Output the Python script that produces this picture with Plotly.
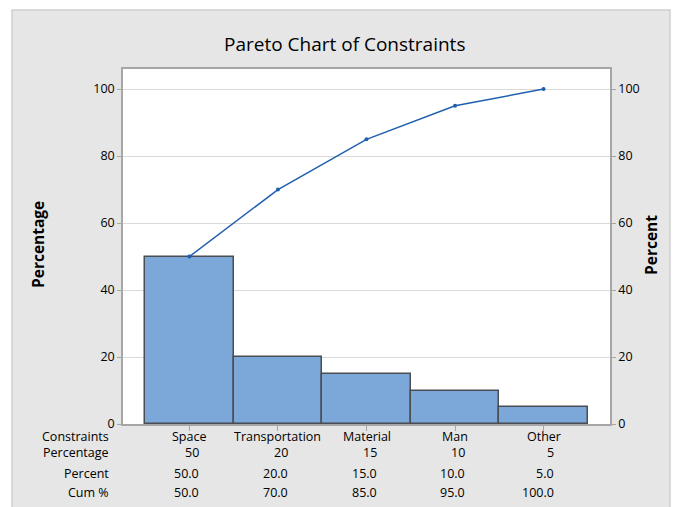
import plotly.graph_objects as go

categories = ["Space", "Transportation", "Material", "Man", "Other"]
percentage = [50, 20, 15, 10, 5]
percent = [50.0, 20.0, 15.0, 10.0, 5.0]
cum_percent = [50.0, 70.0, 85.0, 95.0, 100.0]
y_ticks = [0, 20, 40, 60, 80, 100]
row_labels = ["Constraints", "Percentage", "Percent", "Cum %"]

FONT = "Open Sans"
TXT = "#000000"
AX = "#a6a6a6"

# page offset (body margin) and plot-area geometry in window pixels
OFF = 8
W, H = 681 - OFF, 507 - OFF
L = 123 - OFF
T = 69 - OFF
R = 681 - 610
B = 507 - 424
pw, ph = W - L - R, H - T - B

def px_x(p):
    return (p - OFF - L) / pw

def px_y(p):
    return (424 - p) / ph

fig = go.Figure()
fig.add_trace(go.Bar(
    x=list(range(len(categories))), y=percentage, width=1.0,
    marker=dict(color="#7ba7d9", line=dict(color="#4a4d52", width=1.5)),
    showlegend=False, hoverinfo="skip",
))
fig.add_trace(go.Scatter(
    x=list(range(len(categories))), y=cum_percent, mode="lines+markers",
    line=dict(color="#1f5fae", width=1.5), marker=dict(size=4, color="#1f5fae"),
    showlegend=False,
))
fig.add_trace(go.Scatter(x=[0], y=[0], yaxis="y2", mode="markers",
                         marker=dict(opacity=0), showlegend=False, hoverinfo="skip"))

shapes = [
    dict(type="rect", xref="paper", yref="paper", layer="below",
         x0=px_x(12), x1=px_x(670), y0=px_y(515), y1=px_y(10),
         fillcolor="#e6e6e6", line=dict(color="#cfcfcf", width=1.5)),
    dict(type="rect", xref="paper", yref="paper", layer="below",
         x0=0, x1=1, y0=0, y1=1, fillcolor="white", line=dict(width=0)),
]

ann = []
rows_y = [436, 453, 473, 492]
for lab, py in zip(row_labels, rows_y):
    ann.append(dict(text=lab, xref="paper", yref="paper", x=px_x(111), y=px_y(py),
                    xanchor="right", yanchor="middle", showarrow=False,
                    font=dict(family=FONT, size=12.5, color=TXT)))
off = 12 / (pw / 5.5)
for i, c in enumerate(categories):
    ann.append(dict(text=c, xref="x", yref="paper", x=i, y=px_y(rows_y[0]),
                    xanchor="center", yanchor="middle", showarrow=False,
                    font=dict(family=FONT, size=12.5, color=TXT)))
    for val, py in zip([f"{percentage[i]}", f"{percent[i]:.1f}", f"{cum_percent[i]:.1f}"], rows_y[1:]):
        ann.append(dict(text=val, xref="x", yref="paper", x=i + off, y=px_y(py),
                        xanchor="right", yanchor="middle", showarrow=False,
                        font=dict(family=FONT, size=12.5, color=TXT)))
ann.append(dict(text="<b>Percentage</b>", xref="paper", yref="paper", x=px_x(38), y=px_y(245),
                textangle=-90, showarrow=False, xanchor="center", yanchor="middle",
                font=dict(family=FONT, size=15.5, color=TXT)))
ann.append(dict(text="<b>Percent</b>", xref="paper", yref="paper", x=px_x(651), y=px_y(245),
                textangle=-90, showarrow=False, xanchor="center", yanchor="middle",
                font=dict(family=FONT, size=15.5, color=TXT)))
ann.append(dict(text="Pareto Chart of Constraints", xref="paper", yref="paper",
                x=px_x(344), y=px_y(44), showarrow=False, xanchor="center", yanchor="middle",
                font=dict(family=FONT, size=19, color=TXT)))

yax = dict(range=[0, 106], tickvals=y_ticks, showgrid=True, gridcolor="#dadada", gridwidth=1,
           zeroline=False, showline=True, linecolor=AX, linewidth=1.5,
           ticks="outside", ticklen=4, tickcolor=AX,
           tickfont=dict(family=FONT, size=12.5, color=TXT))
fig.update_layout(
    width=W, height=H, margin=dict(l=L, r=R, t=T, b=B, autoexpand=False),
    paper_bgcolor="white", plot_bgcolor="rgba(0,0,0,0)",
    bargap=0,
    xaxis=dict(range=[-0.75, 4.75], tickvals=list(range(5)), showticklabels=False,
               showgrid=False, zeroline=False, showline=True, linecolor=AX, linewidth=1.5,
               mirror=True, ticks="outside", ticklen=5, tickcolor=AX),
    yaxis=yax,
    yaxis2=dict(yax, overlaying="y", side="right", showgrid=False),
    shapes=shapes, annotations=ann,
)
fig.write_html("out.html")
